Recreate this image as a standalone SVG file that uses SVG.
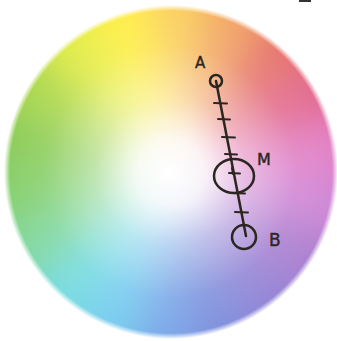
<svg xmlns="http://www.w3.org/2000/svg" width="337" height="341" viewBox="0 0 337 341">
<style>
.ink{fill:none;stroke:#2b2720;stroke-width:2.5;stroke-linecap:round;stroke-linejoin:round}
.tick{fill:none;stroke:#2b2720;stroke-width:2;stroke-linecap:round}
.lbl{font-family:"DejaVu Sans",sans-serif;fill:#2b2720;stroke:#2b2720;stroke-width:0.4}
</style>
<defs>
<radialGradient id="feather" gradientUnits="userSpaceOnUse" cx="171" cy="172" r="167">
<stop offset="0" stop-color="#fff"/>
<stop offset="0.965" stop-color="#fff"/>
<stop offset="1" stop-color="#000"/>
</radialGradient>
<mask id="disc" maskUnits="userSpaceOnUse" x="0" y="0" width="337" height="341"><rect width="337" height="341" fill="url(#feather)"/></mask>
<filter id="blur" filterUnits="userSpaceOnUse" x="-100" y="-100" width="537" height="541"><feGaussianBlur stdDeviation="18"/></filter>
<radialGradient id="white" gradientUnits="userSpaceOnUse" cx="170" cy="172" r="168">
<stop offset="0" stop-color="#fff" stop-opacity="1"/>
<stop offset="0.2" stop-color="#fff" stop-opacity="0.9"/>
<stop offset="0.45" stop-color="#fff" stop-opacity="0.45"/>
<stop offset="0.75" stop-color="#fff" stop-opacity="0.1"/>
<stop offset="1" stop-color="#fff" stop-opacity="0"/>
</radialGradient>
</defs>
<rect width="337" height="341" fill="#fff"/>
<g id="wheel" mask="url(#disc)">
<g filter="url(#blur)" transform="rotate(-8 171 172)">
<path d="M171,172 L397.5,132.1 L397.5,211.9 Z" fill="#e282c8"/>
<path d="M171,172 L397.5,211.9 L370.2,287 Z" fill="#cf88d6"/>
<path d="M171,172 L370.2,287 L318.8,348.2 Z" fill="#ac80d0"/>
<path d="M171,172 L318.8,348.2 L249.7,388.1 Z" fill="#9484d6"/>
<path d="M171,172 L249.7,388.1 L171,402 Z" fill="#8090dc"/>
<path d="M171,172 L171,402 L92.3,388.1 Z" fill="#7ca8e8"/>
<path d="M171,172 L92.3,388.1 L23.2,348.2 Z" fill="#78cdf0"/>
<path d="M171,172 L23.2,348.2 L-28.2,287 Z" fill="#78dce0"/>
<path d="M171,172 L-28.2,287 L-55.5,211.9 Z" fill="#82d8a0"/>
<path d="M171,172 L-55.5,211.9 L-55.5,132.1 Z" fill="#86d070"/>
<path d="M171,172 L-55.5,132.1 L-28.2,57 Z" fill="#8ccc58"/>
<path d="M171,172 L-28.2,57 L23.2,-4.2 Z" fill="#acd850"/>
<path d="M171,172 L23.2,-4.2 L92.3,-44.1 Z" fill="#e2ec48"/>
<path d="M171,172 L92.3,-44.1 L171,-58 Z" fill="#fff04a"/>
<path d="M171,172 L171,-58 L249.7,-44.1 Z" fill="#fbd062"/>
<path d="M171,172 L249.7,-44.1 L318.8,-4.2 Z" fill="#f2a668"/>
<path d="M171,172 L318.8,-4.2 L370.2,57 Z" fill="#e6746e"/>
<path d="M171,172 L370.2,57 L397.5,132.1 Z" fill="#e26c92"/>
</g>
<circle cx="171" cy="172" r="168" fill="url(#white)"/>
</g>
<rect x="299" y="0" width="12" height="2" fill="#333"/>
<g id="connectors">
<path class="ink" d="M216,81 L246,236"/>
<path class="tick" d="M214,103 L227,103.5 M218,119 L230,119.5 M222,137 L235,137.5 M225,154 L237,154.5 M229,173 L240,173.5 M233,174 L232,168 M232,193 L245,193.5 M235,212 L248,212.5"/>
</g>
<g id="A">
<circle class="ink" cx="216" cy="81" r="6"/>
<text class="lbl" x="195" y="68" font-size="15">A</text>
</g>
<g id="M">
<ellipse class="ink" cx="234" cy="176" rx="20" ry="17"/>
<text class="lbl" x="257" y="165" font-size="16">M</text>
</g>
<g id="B">
<circle class="ink" cx="244" cy="237" r="12"/>
<text class="lbl" x="269" y="246" font-size="17">B</text>
</g>
</svg>
